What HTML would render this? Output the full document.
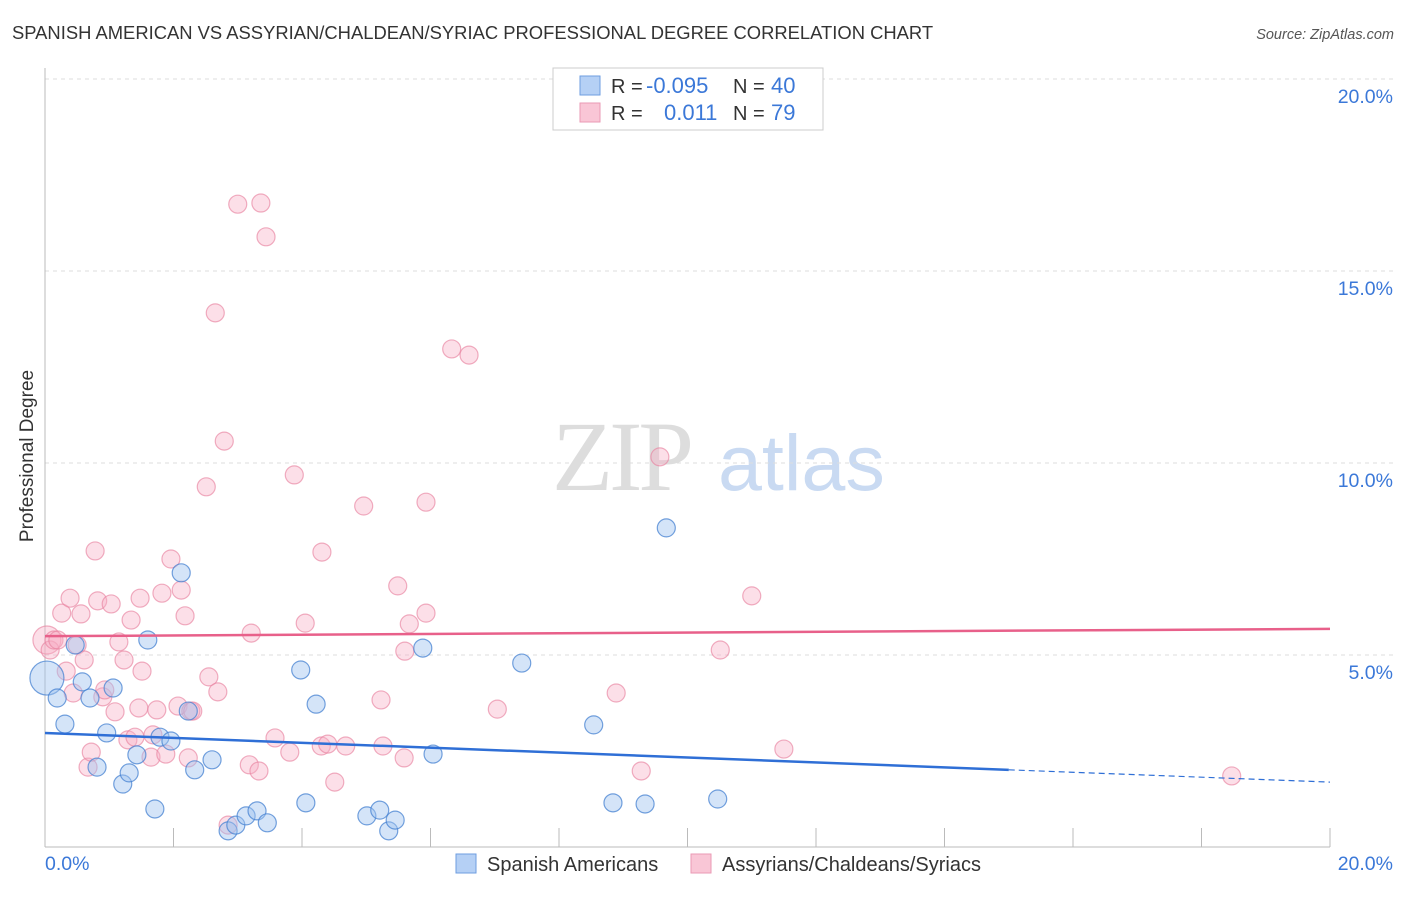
<!DOCTYPE html>
<html><head><meta charset="utf-8"><style>
body{margin:0;background:#fff;font-family:"Liberation Sans",sans-serif;}
</style></head><body>
<svg id="chart" width="1406" height="892" xmlns="http://www.w3.org/2000/svg">
<text x="12" y="39" font-size="18.4" fill="#333">SPANISH AMERICAN VS ASSYRIAN/CHALDEAN/SYRIAC PROFESSIONAL DEGREE CORRELATION CHART</text>
<text x="1394" y="39" font-size="14.5" fill="#555" font-style="italic" text-anchor="end">Source: ZipAtlas.com</text>
<g>
<text x="552" y="490" font-size="100" font-family="Liberation Serif,serif" fill="#ddd" letter-spacing="-4">ZIP</text>
<text x="718" y="490" font-size="79" fill="#c9daf2">atlas</text>
</g>
<g id="grid"></g>
<g id="axes"></g>
<g id="pts"></g>
<g id="lines"></g>
<text transform="translate(33,456) rotate(-90)" font-size="19" fill="#333" text-anchor="middle">Professional Degree</text>
<g>
<rect x="553" y="68" width="270" height="62" fill="#fff" stroke="#ccc"/>
<rect x="580" y="76" width="20" height="19" fill="#b5d0f5" stroke="#6e9ee0"/>
<rect x="580" y="103" width="20" height="19" fill="#f9c6d6" stroke="#ea9ab4"/>
<text x="611" y="93" font-size="20" fill="#333">R =</text>
<text x="646" y="93" font-size="22" fill="#3b78d8">-0.095</text>
<text x="733" y="93" font-size="20" fill="#333">N =</text>
<text x="771" y="93" font-size="22" fill="#3b78d8">40</text>
<text x="611" y="120" font-size="20" fill="#333">R =</text>
<text x="664" y="120" font-size="22" fill="#3b78d8">0.011</text>
<text x="733" y="120" font-size="20" fill="#333">N =</text>
<text x="771" y="120" font-size="22" fill="#3b78d8">79</text>
</g>
<g>
<rect x="456" y="854" width="20" height="19" fill="#b5d0f5" stroke="#6e9ee0"/>
<text x="487" y="871" font-size="20" fill="#333">Spanish Americans</text>
<rect x="691" y="854" width="20" height="19" fill="#f9c6d6" stroke="#ea9ab4"/>
<text x="722" y="871" font-size="20" fill="#333">Assyrians/Chaldeans/Syriacs</text>
</g>
</svg>
<script>
const blueX=[0.03,0.19,0.31,0.47,0.58,0.70,0.81,0.96,1.06,1.21,1.31,1.43,1.60,1.71,1.79,1.96,2.12,2.23,2.33,2.60,2.85,2.97,3.13,3.30,3.46,3.98,4.06,4.22,5.01,5.21,5.35,5.45,5.88,6.04,7.42,8.54,8.84,9.34,9.67,10.47];
const blueY=[4.40,3.88,3.20,5.26,4.30,3.88,2.08,2.97,4.14,1.64,1.93,2.40,5.39,0.99,2.86,2.76,7.14,3.54,2.01,2.27,0.42,0.57,0.81,0.94,0.63,4.61,1.15,3.72,0.81,0.96,0.42,0.70,5.18,2.42,4.79,3.18,1.15,1.12,8.31,1.25];
const pinkX=[0.03,0.08,0.14,0.20,0.26,0.33,0.39,0.44,0.50,0.56,0.61,0.67,0.72,0.78,0.82,0.90,0.93,1.03,1.09,1.15,1.23,1.29,1.34,1.40,1.46,1.51,1.48,1.65,1.68,1.74,1.82,1.88,1.96,2.07,2.12,2.18,2.23,2.27,2.51,2.55,2.65,2.69,2.79,2.85,3.00,3.18,3.21,3.33,3.36,3.44,3.58,3.81,3.88,4.05,4.30,4.31,4.40,4.51,4.68,4.96,5.23,5.26,5.49,5.59,5.60,5.67,5.93,5.93,6.33,6.60,7.04,8.89,9.28,9.57,10.51,11.00,11.50,18.47,2.30];
const pinkY=[5.39,5.13,5.39,5.39,6.09,4.58,6.48,4.01,5.26,6.07,4.87,2.08,2.47,7.71,6.41,3.91,4.09,6.33,3.52,5.34,4.87,2.79,5.91,2.86,3.62,4.58,6.48,2.34,2.92,3.57,6.61,2.42,7.50,3.67,6.69,6.02,2.32,3.54,9.38,4.43,13.91,4.04,10.57,0.57,16.74,2.14,5.57,1.98,16.77,15.89,2.84,2.47,9.69,5.83,2.63,7.68,2.68,1.69,2.63,8.88,3.83,2.63,6.80,2.32,5.10,5.81,6.09,8.98,12.97,12.81,3.59,4.01,1.98,10.16,5.13,6.54,2.55,1.85,3.54];
const yTicks=[5,10,15,20];
const yTickLabels=["5.0%","10.0%","15.0%","20.0%"];
const xTicks=[0,2,4,6,8,10,12,14,16,18,20];
const blueTrend=[2.97,-0.064];
const pinkTrend=[5.49,0.0095];
const blueSolidEnd=15;

const NS="http://www.w3.org/2000/svg";
const sx=v=>45+v*64.25, sy=v=>847-v*38.4;
function mk(tag,attrs,parent){const e=document.createElementNS(NS,tag);for(const k in attrs)e.setAttribute(k,attrs[k]);parent.appendChild(e);return e;}
const gridG=document.getElementById('grid'),axesG=document.getElementById('axes'),ptsG=document.getElementById('pts'),linesG=document.getElementById('lines');
yTicks.forEach((t,i)=>{
 const l=mk('line',{x1:45,x2:1393,y1:sy(t),y2:sy(t),stroke:'#ddd','stroke-dasharray':'4,4'},gridG);
 
 
 const tx=mk('text',{x:1393,y:sy(t)+24,'font-size':19.5,fill:'#3b78d8','text-anchor':'end'},axesG);
 tx.textContent=yTickLabels[i];
 
 
});
const topLine=mk('line',{x1:45,x2:1393,y1:79,y2:79,stroke:'#ddd','stroke-dasharray':'4,4'},gridG);


const ya=mk('line',{x1:45,x2:45,y1:68,y2:847,stroke:'#bbb'},axesG);


const xa=mk('line',{x1:45,x2:1330,y1:847,y2:847,stroke:'#bbb'},axesG);


xTicks.forEach(t=>{
 const l=mk('line',{x1:sx(t),x2:sx(t),y1:828,y2:847,stroke:'#bbb'},axesG);
 
 
});
const xl0=mk('text',{x:45,y:870,'font-size':19.5,fill:'#3b78d8'},axesG);xl0.textContent='0.0%';


const xl1=mk('text',{x:1393,y:870,'font-size':19.5,fill:'#3b78d8','text-anchor':'end'},axesG);xl1.textContent='20.0%';


pinkX.forEach((x,i)=>{
 const c=mk('circle',{cx:sx(x),cy:sy(pinkY[i]),r:i==0?14:9,fill:'rgba(248,175,198,0.4)',stroke:'rgba(232,130,160,0.65)','stroke-width':1.2},ptsG);
 
 
});
blueX.forEach((x,i)=>{
 const c=mk('circle',{cx:sx(x),cy:sy(blueY[i]),r:i==0?17:9,fill:'rgba(160,196,240,0.45)',stroke:'rgba(70,130,210,0.75)','stroke-width':1.2},ptsG);
 
 
});
const by=x=>blueTrend[0]+blueTrend[1]*x, py=x=>pinkTrend[0]+pinkTrend[1]*x;
const pl=mk('line',{x1:sx(0),y1:sy(py(0)),x2:sx(20),y2:sy(py(20)),stroke:'#e8608a','stroke-width':2.5},linesG);


const bl=mk('line',{x1:sx(0),y1:sy(by(0)),x2:sx(blueSolidEnd),y2:sy(by(blueSolidEnd)),stroke:'#2f6fd6','stroke-width':2.5},linesG);


const bd=mk('line',{x1:sx(blueSolidEnd),y1:sy(by(blueSolidEnd)),x2:sx(20),y2:sy(by(20)),stroke:'#2f6fd6','stroke-width':1.2,'stroke-dasharray':'6,4'},linesG);


</script>
</body></html>
